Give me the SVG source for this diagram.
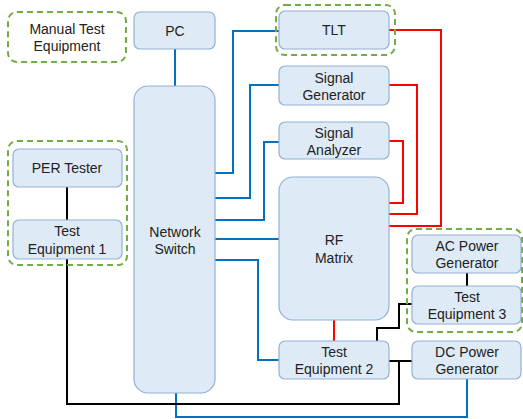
<svg xmlns="http://www.w3.org/2000/svg" width="523" height="419" viewBox="0 0 523 419">
<style>
.box{fill:#deebf7;stroke:#94b1d3;stroke-width:1.2}
.grp{fill:none;stroke:#70ad47;stroke-width:2;stroke-dasharray:6 4}
text{font-family:"Liberation Sans",Arial,sans-serif;font-size:14px;fill:#222;text-anchor:middle}
.b{fill:none;stroke:#0070c0;stroke-width:2}
.r{fill:none;stroke:#ff0000;stroke-width:2}
.k{fill:none;stroke:#000;stroke-width:2}
</style>
<rect x="0" y="0" width="523" height="419" fill="#fff"/>
<g id="connectors">
<path class="b" d="M175,49V86"/>
<path class="b" d="M215,173H233V31H279"/>
<path class="b" d="M215,198H250V85H279"/>
<path class="b" d="M215,220H264V142H279"/>
<path class="b" d="M215,239H279"/>
<path class="b" d="M215,260H258V360H279"/>
<path class="b" d="M176,393V417H467V379"/>
<path class="r" d="M389,30H441V226H389"/>
<path class="r" d="M389,85H417V214H389"/>
<path class="r" d="M389,141H403V203H389"/>
<path class="r" d="M334,320V341"/>
<path class="k" d="M67,187V220"/>
<path class="k" d="M67,259V404H399V361"/>
<path class="k" d="M389,361H412"/>
<path class="k" d="M377,341V328H399V304H412"/>
<path class="k" d="M467,273V286"/>
</g>
<g id="manual-test-equipment">
<rect class="grp" x="8" y="12" width="118" height="50" rx="9"/>
<text x="67" y="34">Manual Test</text>
<text x="67" y="51">Equipment</text>
</g>
<g id="pc">
<rect class="box" x="134" y="12" width="81" height="37" rx="6"/>
<text x="175" y="36">PC</text>
</g>
<g id="network-switch">
<rect class="box" x="134" y="86" width="81" height="307" rx="14"/>
<text x="175" y="237">Network</text>
<text x="175" y="254">Switch</text>
</g>
<g id="tlt-group">
<rect class="grp" x="276" y="5" width="119" height="50" rx="9"/>
</g>
<g id="tlt">
<rect class="box" x="279" y="11" width="110" height="38" rx="6"/>
<text x="334" y="35">TLT</text>
</g>
<g id="signal-generator">
<rect class="box" x="279" y="66" width="110" height="39" rx="6"/>
<text x="334" y="83">Signal</text>
<text x="334" y="100">Generator</text>
</g>
<g id="signal-analyzer">
<rect class="box" x="279" y="122" width="110" height="37" rx="6"/>
<text x="334" y="138">Signal</text>
<text x="334" y="155">Analyzer</text>
</g>
<g id="rf-matrix">
<rect class="box" x="279" y="177" width="110" height="143" rx="14"/>
<text x="334" y="245">RF</text>
<text x="334" y="263">Matrix</text>
</g>
<g id="per-group">
<rect class="grp" x="8" y="141" width="119" height="124" rx="9"/>
</g>
<g id="per-tester">
<rect class="box" x="13" y="149" width="109" height="38" rx="6"/>
<text x="67" y="173">PER Tester</text>
</g>
<g id="test-equipment-1">
<rect class="box" x="13" y="220" width="109" height="39" rx="6"/>
<text x="67" y="236">Test</text>
<text x="67" y="254">Equipment 1</text>
</g>
<g id="ac-group">
<rect class="grp" x="407" y="229" width="115" height="103" rx="9"/>
</g>
<g id="ac-power-generator">
<rect class="box" x="412" y="235" width="109" height="38" rx="6"/>
<text x="467" y="251">AC Power</text>
<text x="467" y="268">Generator</text>
</g>
<g id="test-equipment-3">
<rect class="box" x="412" y="286" width="109" height="38" rx="6"/>
<text x="467" y="302">Test</text>
<text x="467" y="319">Equipment 3</text>
</g>
<g id="test-equipment-2">
<rect class="box" x="279" y="341" width="110" height="38" rx="6"/>
<text x="334" y="357">Test</text>
<text x="334" y="374">Equipment 2</text>
</g>
<g id="dc-power-generator">
<rect class="box" x="412" y="341" width="109" height="38" rx="6"/>
<text x="467" y="357">DC Power</text>
<text x="467" y="374">Generator</text>
</g>
</svg>
